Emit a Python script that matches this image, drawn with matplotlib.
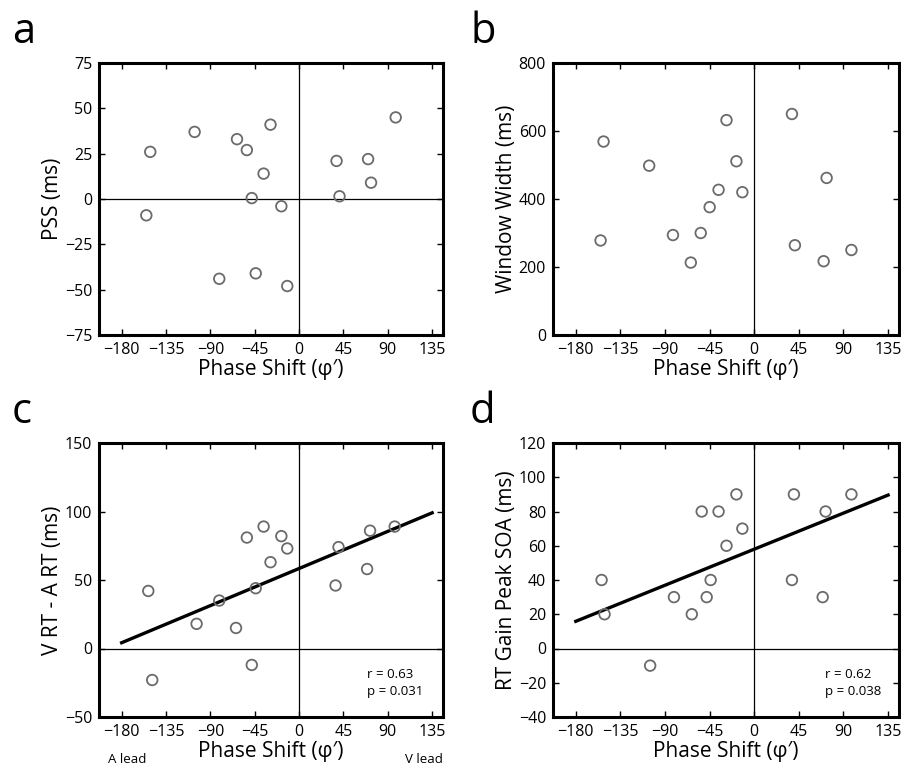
import numpy as np
import matplotlib.pyplot as plt

plt.rcParams['font.family'] = ['Open Sans', 'DejaVu Sans']

# Panel a - PSS
pss_x = [-151, -155, -106, -81, -63, -53, -48, -44, -36, -29, -18, -12, 38, 41, 70, 73, 98]
pss_y = [26, -9, 37, -44, 33, 27, 0.5, -41, 14, 41, -4, -48, 21, 1.5, 22, 9, 45]

# Panel b - Window width
ww_x = [-152, -155, -106, -82, -64, -54, -45, -36, -28, -18, -12, 38, 41, 70, 73, 98]
ww_y = [569, 278, 498, 294, 213, 300, 376, 427, 632, 511, 420, 650, 264, 217, 462, 250]

# Panel c - V RT - A RT
rt_x = [-153, -149, -104, -81, -64, -53, -48, -44, -36, -29, -18, -12, 37, 40, 69, 72, 97]
rt_y = [42, -23, 18, 35, 15, 81, -12, 44, 89, 63, 82, 73, 46, 74, 58, 86, 89]
rt_fit = (0.301, 58.4)   # slope, intercept

# Panel d - RT gain peak SOA
soa_x = [-154, -151, -105, -81, -63, -53, -48, -44, -36, -28, -18, -12, 38, 40, 69, 72, 98]
soa_y = [40, 20, -10, 30, 20, 80, 30, 40, 80, 60, 90, 70, 40, 90, 30, 80, 90]
soa_fit = (0.234, 58.0)

fit_range = [-180, 135]
xticks = [-180, -135, -90, -45, 0, 45, 90, 135]

fig = plt.figure(figsize=(9.01, 7.71), dpi=100)
W, H = 901, 771

def make_ax(l, t, r, b):
    return fig.add_axes([l / W, 1 - b / H, (r - l) / W, (b - t) / H])

def style_panel(ax, x, y, ylim, yticks, ylabel):
    ax.axhline(0, color='black', lw=0.9, zorder=1)
    ax.axvline(0, color='black', lw=0.9, zorder=1)
    ax.scatter(x, y, s=58, facecolors='none', edgecolors='#6b6b6b', linewidths=1.3, zorder=3)
    ax.set_xlim(-203, 146)
    ax.set_ylim(*ylim)
    ax.set_xticks(xticks)
    ax.set_yticks(yticks)
    ax.tick_params(direction='in', top=True, right=True, length=4, width=1,
                   labelsize=11.5, pad=5)
    for s in ax.spines.values():
        s.set_linewidth(2.2)
    ax.set_xlabel('Phase Shift (\u03c6\u2032)', fontsize=15, labelpad=1)
    ax.set_ylabel(ylabel, fontsize=15, labelpad=1)

ax_a = make_ax(99, 63, 443, 335)
style_panel(ax_a, pss_x, pss_y, (-75, 75), np.arange(-75, 76, 25), 'PSS (ms)')

ax_b = make_ax(553, 63, 899, 335)
style_panel(ax_b, ww_x, ww_y, (0, 800), np.arange(0, 801, 200), 'Window Width (ms)')

ax_c = make_ax(99, 443, 443, 717)
style_panel(ax_c, rt_x, rt_y, (-50, 150), np.arange(-50, 151, 50), 'V RT - A RT (ms)')
fx = np.array(fit_range)
ax_c.plot(fx, rt_fit[0] * fx + rt_fit[1], color='black', lw=2.4, zorder=2)
ax_c.text(0.78, 0.125, 'r = 0.63\np = 0.031', transform=ax_c.transAxes,
          fontsize=9.5, va='center', ha='left', linespacing=1.35)
ax_c.text(0.025, -0.155, 'A lead', transform=ax_c.transAxes, fontsize=9.5, va='center', ha='left')
ax_c.text(1.0, -0.155, 'V lead', transform=ax_c.transAxes, fontsize=9.5, va='center', ha='right')

ax_d = make_ax(553, 443, 899, 717)
style_panel(ax_d, soa_x, soa_y, (-40, 120), np.arange(-40, 121, 20), 'RT Gain Peak SOA (ms)')
ax_d.plot(fx, soa_fit[0] * fx + soa_fit[1], color='black', lw=2.4, zorder=2)
ax_d.text(0.785, 0.125, 'r = 0.62\np = 0.038', transform=ax_d.transAxes,
          fontsize=9.5, va='center', ha='left', linespacing=1.35)

# panel letters
for letter, px, py in [('a', 12, 32), ('b', 470, 32), ('c', 12, 412), ('d', 470, 412)]:
    fig.text(px / W, 1 - py / H, letter, fontsize=30, ha='left', va='center')

fig.savefig('out.png', dpi=100)
